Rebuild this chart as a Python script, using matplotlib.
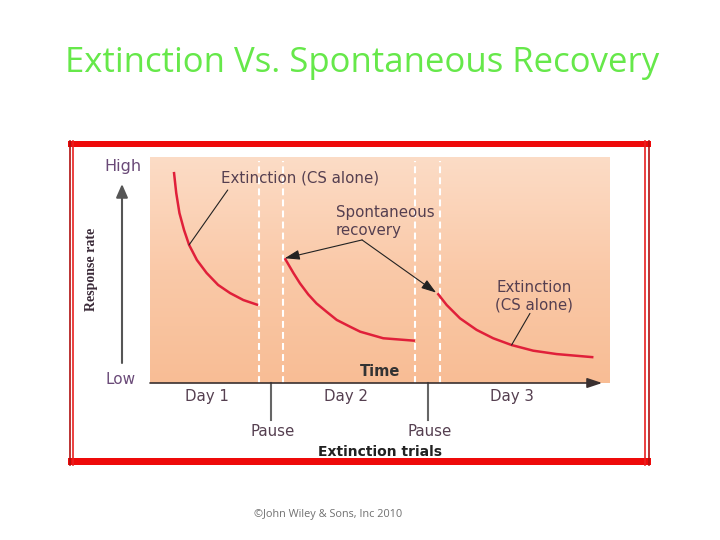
import matplotlib
matplotlib.use('Agg')
import matplotlib.pyplot as plt
import numpy as np
from matplotlib.patches import Rectangle
from matplotlib.colors import LinearSegmentedColormap

# response curves (time units 0-100, response 0-1)
c1_t = [5.2, 5.7, 6.4, 7.4, 8.5, 10.2, 12.3, 14.8, 17.4, 20.3, 23.5]
c1_r = [0.934, 0.841, 0.752, 0.677, 0.611, 0.544, 0.487, 0.434, 0.398, 0.367, 0.345]
c2_t = [29.3, 31.2, 32.6, 34.4, 36.2, 38.4, 40.6, 43.5, 45.7, 50.7, 57.6]
c2_r = [0.552, 0.486, 0.441, 0.392, 0.352, 0.315, 0.279, 0.249, 0.227, 0.198, 0.187]
c3_t = [62.5, 64.5, 67.4, 71.0, 74.6, 78.6, 83.3, 88.4, 96.4]
c3_r = [0.397, 0.345, 0.286, 0.235, 0.198, 0.168, 0.143, 0.128, 0.114]

pause_lines = [23.7, 28.9, 57.6, 63.0]
pause_ticks = [26.3, 60.4]
day_labels = ['Day 1', 'Day 2', 'Day 3']
day_pos = [12.4, 42.6, 78.7]

W, H = 720, 540
fig = plt.figure(figsize=(7.2, 5.4), dpi=100)

# page-level axes in pixel units
bg = fig.add_axes([0, 0, 1, 1])
bg.set_xlim(0, W)
bg.set_ylim(H, 0)
bg.axis('off')

TXT = '#553f50'
FONT = 'DejaVu Sans'

fig.text(362 / W, 1 - 63 / H, 'Extinction Vs. Spontaneous Recovery', color='#66e84a',
         fontsize=25, ha='center', va='center', family='Open Sans')

# red frame
bg.add_patch(Rectangle((68, 141), 583, 6, color='#ee0a0a', lw=0))
bg.add_patch(Rectangle((68, 458), 583, 7, color='#ee0a0a', lw=0))
for x, c in [(69.5, '#b01010'), (73, '#e82020'), (645, '#e82020'), (649, '#b01010')]:
    bg.plot([x, x], [141, 465], color=c, lw=1.2)

# plot area
L, R, T, B = 150, 610, 157, 383
ax = fig.add_axes([L / W, 1 - B / H, (R - L) / W, (B - T) / H])
ax.set_xlim(0, 100)
ax.set_ylim(0, 1)
ax.axis('off')

grad = np.linspace(0, 1, 256).reshape(-1, 1)
peach = LinearSegmentedColormap.from_list('peach', ['#f8bd95', '#fac9a8', '#fcdcc6'])
ax.imshow(grad, cmap=peach, aspect='auto', extent=[0, 100, 0, 1], origin='lower', zorder=0)

def fy(py):
    return (B - py) / (B - T)

for x in pause_lines:
    ax.plot([x, x], [0, fy(161)], color='white', lw=1.5, ls=(0, (3.3, 2)), zorder=1)

for t, r in [(c1_t, c1_r), (c2_t, c2_r), (c3_t, c3_r)]:
    ax.plot(t, r, color='#e0203a', lw=1.8, solid_capstyle='butt', zorder=3)

fs = 10.8
# annotations
ax.text(32.6, fy(178), 'Extinction (CS alone)', color=TXT, fontsize=fs, family=FONT,
        ha='center', va='center')
ax.annotate('', xy=(c1_t[4], c1_r[4]), xytext=(16.9, 0.854),
            arrowprops=dict(arrowstyle='-', color='#222222', lw=0.8, shrinkA=0, shrinkB=0))
ax.text(40.4, fy(213), 'Spontaneous', color=TXT, fontsize=fs, family=FONT, ha='left', va='center')
ax.text(40.4, fy(231), 'recovery', color=TXT, fontsize=fs, family=FONT, ha='left', va='center')
for tx, ty in [(c2_t[0], c2_r[0]), (62.2, 0.40)]:
    ax.annotate('', xy=(tx, ty), xytext=(46.1, 0.633),
                arrowprops=dict(arrowstyle='-|>,head_length=0.9,head_width=0.3',
                                color='#222222', lw=0.8, shrinkA=0, shrinkB=0))
ax.text(83.5, fy(288), 'Extinction', color=TXT, fontsize=fs, family=FONT, ha='center', va='center')
ax.text(83.5, fy(305), '(CS alone)', color=TXT, fontsize=fs, family=FONT, ha='center', va='center')
ax.annotate('', xy=(c3_t[5], c3_r[5]), xytext=(82.6, 0.308),
            arrowprops=dict(arrowstyle='-', color='#222222', lw=0.8, shrinkA=0, shrinkB=0))

ax.text(50, fy(372), 'Time', color='#333333', fontsize=10.5, family=FONT, ha='center',
        va='center', fontweight='bold')

# x axis arrow
ax.annotate('', xy=(98.3, 0), xytext=(0, 0), annotation_clip=False,
            arrowprops=dict(arrowstyle='-|>,head_length=0.9,head_width=0.3',
                            color='#3a3030', lw=1.2, shrinkA=0, shrinkB=0))

for lab, x in zip(day_labels, day_pos):
    ax.text(x, fy(397), lab, color=TXT, fontsize=fs, family=FONT, ha='center', va='center')
for x in pause_ticks:
    ax.plot([x, x], [0, fy(420)], color='#666666', lw=1.5, clip_on=False)
    ax.text(x + 0.3, fy(432), 'Pause', color=TXT, fontsize=fs, family=FONT,
            ha='center', va='center')
ax.text(50, fy(452), 'Extinction trials', color='#222222', fontsize=10, family=FONT,
        ha='center', va='center', fontweight='bold')

# y axis arrow and labels
bg.annotate('', xy=(122, 184), xytext=(122, 363),
            arrowprops=dict(arrowstyle='-|>,head_length=0.8,head_width=0.35',
                            color='#555555', lw=1.5, shrinkA=0, shrinkB=0))
bg.text(123, 167, 'High', color='#6a4a78', fontsize=11.5, family=FONT, ha='center', va='center')
bg.text(121, 380, 'Low', color='#6a4a78', fontsize=11, family=FONT, ha='center', va='center')
bg.text(92, 269, 'Response rate', color='#3a2a38', fontsize=10, fontweight='bold',
        family=['Liberation Sans Narrow', 'Liberation Serif'], rotation=90,
        ha='center', va='center')

fig.text(328 / W, 1 - 515 / H, '©John Wiley & Sons, Inc 2010', color='#707070',
         fontsize=7.8, family='Open Sans', ha='center', va='center')

fig.savefig('out.png', dpi=100)
